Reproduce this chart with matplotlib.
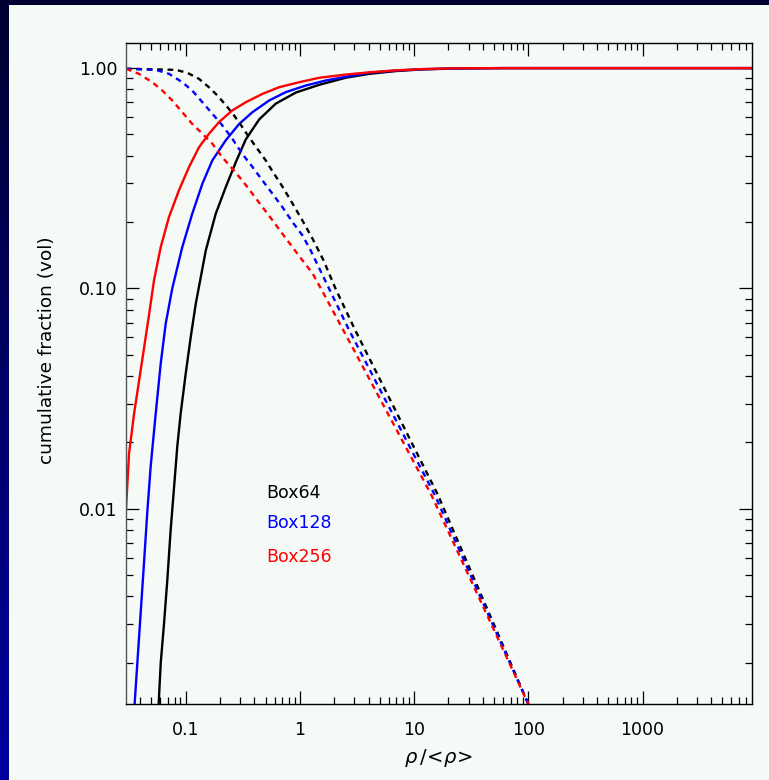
import numpy as np
import matplotlib
matplotlib.use("Agg")
import matplotlib.pyplot as plt
from matplotlib.ticker import FixedLocator, NullFormatter
from matplotlib.colors import LinearSegmentedColormap

# ---------------- data ----------------
labels = ["Box64", "Box128", "Box256"]
colors = ["black", "blue", "red"]

# solid curves: cumulative fraction below rho/<rho>
black_solid_x = [0.0565, 0.0604, 0.0646, 0.0690, 0.0738, 0.0791, 0.0843, 0.0903, 0.100, 0.1107, 0.1225,
                 0.150, 0.183, 0.224, 0.275, 0.336, 0.440, 0.615, 0.923, 1.476, 2.54, 4.06, 7.0, 12.0, 25.0, 60.0, 9000.0]
black_solid_y = [0.0010, 0.00199, 0.00302, 0.00474, 0.0080, 0.01256, 0.0191, 0.0270, 0.0411, 0.0603, 0.0853,
                 0.149, 0.218, 0.288, 0.375, 0.475, 0.585, 0.690, 0.775, 0.840, 0.905, 0.942, 0.970, 0.987, 0.997, 1.0, 1.0]

blue_solid_x = [0.0345, 0.0377, 0.0403, 0.0431, 0.0460, 0.0493, 0.0546, 0.0604, 0.0668, 0.0762, 0.0933,
                0.114, 0.140, 0.171, 0.224, 0.294, 0.384, 0.538, 0.753, 1.130, 1.690, 2.89, 4.06, 7.0, 12.0, 25.0, 60.0, 9000.0]
blue_solid_y = [0.0010, 0.00199, 0.00335, 0.00565, 0.00953, 0.0155, 0.0270, 0.0456, 0.0692, 0.0998, 0.154,
                0.218, 0.299, 0.381, 0.470, 0.558, 0.631, 0.713, 0.778, 0.834, 0.879, 0.925, 0.953, 0.975, 0.989, 0.997, 1.0, 1.0]

red_solid_x = [0.030, 0.0319, 0.0353, 0.0391, 0.0433, 0.0479, 0.0528, 0.0604, 0.0714, 0.0873, 0.107, 0.131,
               0.160, 0.196, 0.256, 0.336, 0.470, 0.658, 0.986, 1.479, 2.53, 4.06, 7.0, 12.0, 25.0, 60.0, 9000.0]
red_solid_y = [0.0100, 0.0178, 0.0270, 0.0383, 0.0542, 0.0769, 0.109, 0.154, 0.211, 0.279, 0.356, 0.438,
               0.504, 0.569, 0.643, 0.700, 0.764, 0.819, 0.863, 0.904, 0.935, 0.957, 0.977, 0.990, 0.998, 1.0, 1.0]

# dashed curves: cumulative fraction above rho/<rho>
black_dash_x = [0.030, 0.0817, 0.103, 0.131, 0.160, 0.189, 0.224, 0.265, 0.313, 0.359, 0.411, 0.504,
                0.575, 0.703, 0.861, 1.054, 1.291, 1.60, 2.05, 3.05, 16.1, 100.0, 104.0]
black_dash_y = [0.993, 0.982, 0.953, 0.893, 0.818, 0.752, 0.680, 0.610, 0.540, 0.485, 0.440, 0.380,
                0.340, 0.290, 0.243, 0.203, 0.168, 0.135, 0.0998, 0.0646, 0.0116, 0.0013, 0.0012]

blue_dash_x = [0.030, 0.0546, 0.0714, 0.0933, 0.114, 0.140, 0.171, 0.209, 0.256, 0.313, 0.384, 0.470,
               0.575, 0.703, 0.861, 1.054, 1.24, 1.80, 2.70, 15.1, 100.0, 104.0]
blue_dash_y = [0.993, 0.982, 0.942, 0.863, 0.791, 0.700, 0.621, 0.550, 0.478, 0.408, 0.356, 0.309,
               0.269, 0.234, 0.200, 0.174, 0.149, 0.0998, 0.0646, 0.0116, 0.0013, 0.0012]

red_dash_x = [0.030, 0.0389, 0.0509, 0.0624, 0.0762, 0.0933, 0.114, 0.140, 0.171, 0.209, 0.256, 0.313,
              0.384, 0.470, 0.575, 0.703, 0.861, 1.054, 1.291, 1.528, 2.40, 14.1, 100.0, 104.0]
red_dash_y = [0.993, 0.942, 0.863, 0.791, 0.713, 0.631, 0.558, 0.504, 0.454, 0.394, 0.349, 0.309,
              0.269, 0.234, 0.204, 0.177, 0.154, 0.134, 0.117, 0.0998, 0.0646, 0.0116, 0.0013, 0.0012]

x_major = [0.1, 1, 10, 100, 1000]
x_major_labels = ["0.1", "1", "10", "100", "1000"]
y_major = [0.01, 0.1, 1.0]
y_major_labels = ["0.01", "0.10", "1.00"]
xlim = (0.03, 9000)
ylim = (0.0013, 1.3)

# ---------------- figure ----------------
W, H = 769, 780
fig = plt.figure(figsize=(W / 100, H / 100), dpi=100)
fig.patch.set_facecolor("#00003a")

# dark-blue gradient frame
bg = fig.add_axes([0, 0, 1, 1], zorder=-10)
grad = np.linspace(0, 1, 256).reshape(-1, 1)
cm = LinearSegmentedColormap.from_list("navy", ["#000030", "#0000a0"])
bg.imshow(grad, aspect="auto", cmap=cm, extent=[0, 1, 0, 1], origin="upper")
bg.set_axis_off()

panel_color = "#f5faf7"
panel = fig.add_axes([9 / W, 0, 1 - 9 / W, 1 - 5 / H], zorder=-5)
panel.set_facecolor(panel_color)
panel.set_xticks([]); panel.set_yticks([])
for s in panel.spines.values():
    s.set_visible(False)

ax = fig.add_axes([126 / W, 1 - 704 / H, (751.5 - 126) / W, (704 - 43) / H])
ax.set_facecolor(panel_color)
ax.set_xscale("log")
ax.set_yscale("log")
ax.set_xlim(*xlim)
ax.set_ylim(*ylim)

lw = 1.7
dash = (0, (2.4, 2.0))
ax.plot(black_solid_x, black_solid_y, color="black", lw=lw, solid_joinstyle="round")
ax.plot(blue_solid_x, blue_solid_y, color="blue", lw=lw, solid_joinstyle="round")
ax.plot(black_dash_x, black_dash_y, color="black", lw=lw, linestyle=dash)
ax.plot(blue_dash_x, blue_dash_y, color="blue", lw=lw, linestyle=dash)
ax.plot(red_dash_x, red_dash_y, color="red", lw=lw, linestyle=dash)
ax.plot(red_solid_x, red_solid_y, color="red", lw=lw, solid_joinstyle="round")

# ticks
ax.xaxis.set_major_locator(FixedLocator(x_major))
ax.set_xticklabels(x_major_labels)
xminor = [m * 10.0 ** k for k in range(-2, 4) for m in range(2, 10)]
ax.xaxis.set_minor_locator(FixedLocator([v for v in xminor if xlim[0] < v < 8900]))
ax.xaxis.set_minor_formatter(NullFormatter())
ax.yaxis.set_major_locator(FixedLocator(y_major))
ax.set_yticklabels(y_major_labels)
yminor = [m * 10.0 ** k for k in range(-3, 0) for m in range(2, 10)]
ax.yaxis.set_minor_locator(FixedLocator([v for v in yminor if ylim[0] < v < 1.0]))
ax.yaxis.set_minor_formatter(NullFormatter())

ax.tick_params(which="both", direction="in", top=True, right=True, width=0.9, color="black")
ax.tick_params(which="major", length=9.5)
ax.tick_params(which="minor", length=5)
ax.tick_params(axis="x", which="major", pad=12, labelsize=12.5)
ax.tick_params(axis="y", which="major", pad=6, labelsize=12.5)
for s in ax.spines.values():
    s.set_linewidth(1.0)
ax.spines["left"].set_color("#555555")

ax.set_xlabel(r"$\rho\,/\!<\!\rho\!>$", fontsize=14, labelpad=6)
fig.text(47 / W, 1 - 350 / H, "cumulative fraction (vol)", fontsize=13.3,
         rotation=90, ha="center", va="center", color="black")

# legend text
for lab, col, ypx in zip(labels, colors, [493, 523, 557]):
    fig.text(266 / W, 1 - ypx / H, lab, color=col, fontsize=12.5, ha="left", va="center")

fig.savefig("out.png", dpi=100)
